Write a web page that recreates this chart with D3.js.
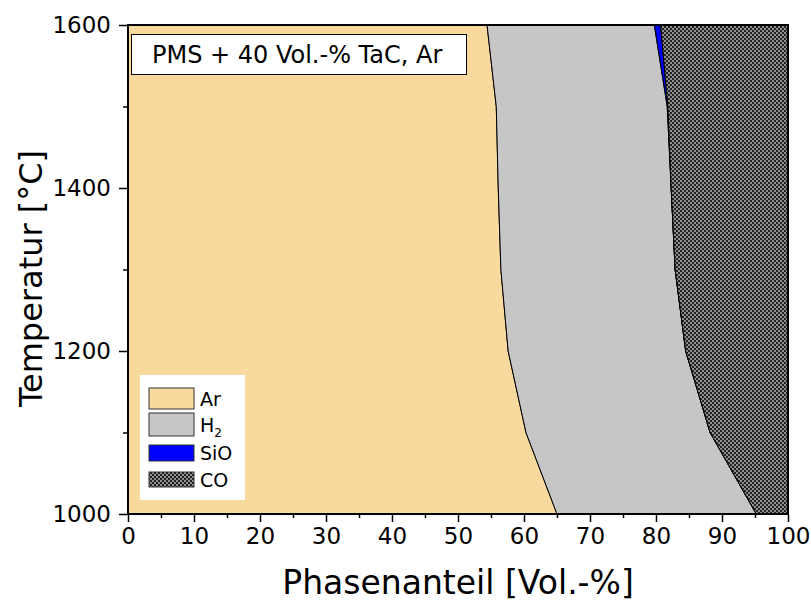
<!DOCTYPE html>
<html>
<head>
<meta charset="utf-8">
<script src="https://cdn.jsdelivr.net/npm/d3@7"></script>
<style>
  html, body { margin: 0; padding: 0; background: #fff; }
  svg { display: block; font-family: "DejaVu Sans", Verdana, sans-serif; }
</style>
</head>
<body>
<svg id="chart" width="811" height="606"></svg>
<script>
// Temperatures (°C) and phase fractions (Vol.-%) at each temperature
const temperatures = [1000, 1100, 1200, 1300, 1400, 1500, 1600];
const ar  = [65.0, 60.3, 57.6, 56.5, 56.1, 55.8, 54.4];
const h2  = [30.2, 27.9, 26.9, 26.4, 26.2, 25.9, 25.35];
const sio = [0, 0, 0, 0, 0, 0.1, 0.95];
const co  = [4.8, 11.8, 15.5, 17.1, 17.7, 18.2, 19.3];

const phaseKeys = ["Ar", "H2", "SiO", "CO"];
const xTicks = [0, 10, 20, 30, 40, 50, 60, 70, 80, 90, 100];
const yTicks = [1000, 1200, 1400, 1600];
const title = "PMS + 40 Vol.-% TaC, Ar";

const rows = temperatures.map((t, i) => ({ T: t, Ar: ar[i], H2: h2[i], SiO: sio[i], CO: co[i] }));

const svg = d3.select("#chart");
const plotLeft = 128, plotRight = 788, plotTop = 25, plotBottom = 514;

const x = d3.scaleLinear().domain([0, 100]).range([plotLeft, plotRight]);
const y = d3.scaleLinear().domain([1000, 1600]).range([plotBottom, plotTop]);

// Cross-hatched fill for CO
const defs = svg.append("defs");
const pat = defs.append("pattern")
  .attr("id", "hatch").attr("patternUnits", "userSpaceOnUse")
  .attr("width", 4).attr("height", 4);
pat.append("rect").attr("width", 4).attr("height", 4).attr("fill", "#222");
pat.append("rect").attr("x", 0).attr("y", 0).attr("width", 2).attr("height", 2).attr("fill", "#909090");
pat.append("rect").attr("x", 2).attr("y", 2).attr("width", 2).attr("height", 2).attr("fill", "#909090");

const fills = { Ar: "#F9DA9E", H2: "#C6C6C6", SiO: "#0000FF", CO: "url(#hatch)" };

const stacked = d3.stack().keys(phaseKeys)(rows);

const area = d3.area()
  .y(d => y(d.data.T))
  .x0(d => x(d[0]))
  .x1(d => x(d[1]));

const clip = defs.append("clipPath").attr("id", "plotclip");
clip.append("rect").attr("x", plotLeft).attr("y", plotTop)
  .attr("width", plotRight - plotLeft).attr("height", plotBottom - plotTop);

const plot = svg.append("g").attr("clip-path", "url(#plotclip)");
plot.selectAll("path.layer")
  .data(stacked)
  .join("path")
  .attr("class", "layer")
  .attr("d", area)
  .attr("fill", d => fills[d.key])
  .attr("stroke", "#000")
  .attr("stroke-width", 1)
  .attr("stroke-linejoin", "round");

// Axes
const xAxis = d3.axisBottom(x).tickValues(xTicks).tickSize(8).tickPadding(6).tickFormat(d3.format("d"));
const xMinor = d3.axisBottom(x).tickValues(d3.range(5, 100, 10)).tickSize(4).tickFormat("");
const yAxis = d3.axisLeft(y).tickValues(yTicks).tickSize(9).tickPadding(8).tickFormat(d3.format("d"));
const yMinor = d3.axisLeft(y).tickValues([1100, 1300, 1500]).tickSize(5).tickFormat("");

function styleAxis(g) {
  g.select(".domain").remove();
  g.selectAll("line").attr("stroke", "#000").attr("stroke-width", 1.5);
  g.selectAll("text").attr("fill", "#000").style("font-size", "23px")
    .style("font-family", '"DejaVu Sans", Verdana, sans-serif');
}

svg.append("g").attr("transform", `translate(0,${plotBottom})`).call(xAxis).call(styleAxis);
svg.append("g").attr("transform", `translate(0,${plotBottom})`).call(xMinor).call(styleAxis);
svg.append("g").attr("transform", `translate(${plotLeft},0)`).call(yAxis).call(styleAxis);
svg.append("g").attr("transform", `translate(${plotLeft},0)`).call(yMinor).call(styleAxis);

// Frame
svg.append("rect")
  .attr("x", plotLeft).attr("y", plotTop)
  .attr("width", plotRight - plotLeft).attr("height", plotBottom - plotTop)
  .attr("fill", "none").attr("stroke", "#000").attr("stroke-width", 2);

// Axis titles
svg.append("text")
  .attr("x", (plotLeft + plotRight) / 2).attr("y", 594)
  .attr("text-anchor", "middle").style("font-size", "33px")
  .text("Phasenanteil [Vol.-%]");

svg.append("text")
  .attr("transform", `translate(42,${(plotTop + plotBottom) / 2 + 9}) rotate(-90)`)
  .attr("text-anchor", "middle").style("font-size", "32px")
  .text("Temperatur [°C]");

// Annotation box
const ann = svg.append("g");
ann.append("rect").attr("x", 131.5).attr("y", 34.5).attr("width", 335).attr("height", 40)
  .attr("fill", "#fff").attr("stroke", "#000").attr("stroke-width", 1);
ann.append("text").attr("x", 152).attr("y", 63).style("font-size", "24px").text(title);

// Legend
const legend = svg.append("g");
legend.append("rect").attr("x", 140).attr("y", 375).attr("width", 105).attr("height", 125).attr("fill", "#fff");
const legendItems = [
  { key: "Ar", y: 388, h: 21 },
  { key: "H2", y: 413, h: 23 },
  { key: "SiO", y: 445, h: 16 },
  { key: "CO", y: 472, h: 15 }
];
legendItems.forEach(it => {
  legend.append("rect").attr("x", 149).attr("y", it.y).attr("width", 45).attr("height", it.h)
    .attr("fill", fills[it.key]).attr("stroke", "#333").attr("stroke-width", 1);
  const t = legend.append("text").attr("x", 200).attr("y", it.y + it.h / 2 + 7).style("font-size", "19px");
  if (it.key === "H2") {
    t.append("tspan").text("H");
    t.append("tspan").attr("dy", 5).style("font-size", "12px").text("2");
  } else {
    t.text(it.key);
  }
});
</script>
</body>
</html>
